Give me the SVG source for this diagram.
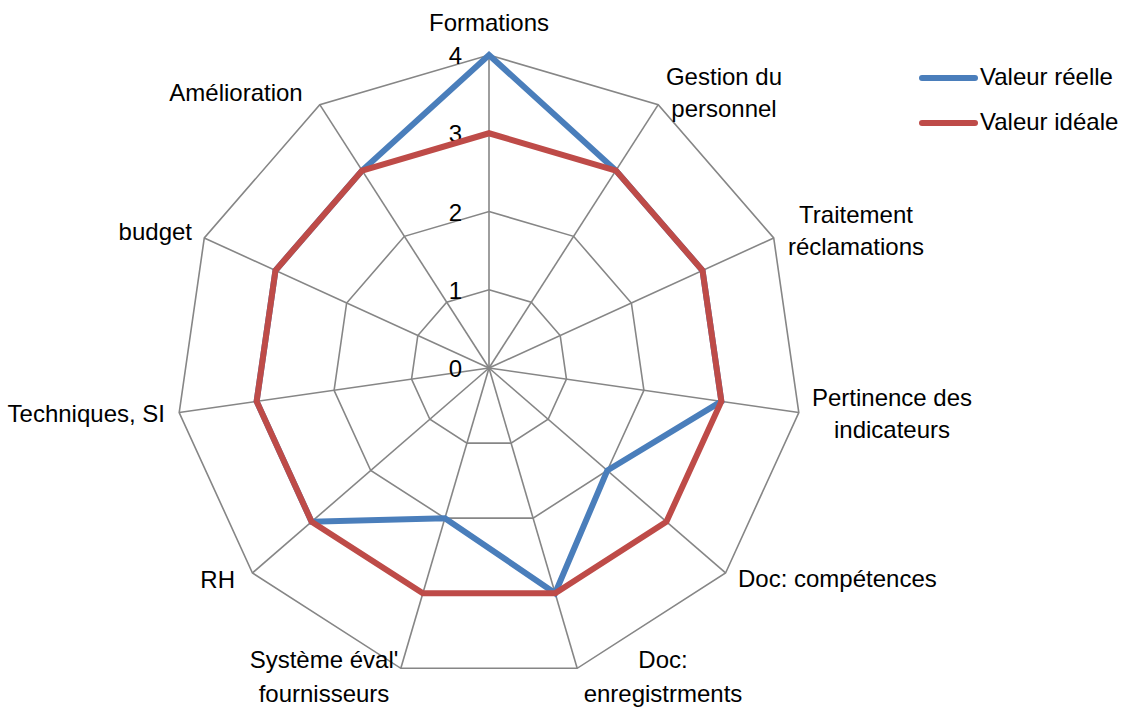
<svg xmlns="http://www.w3.org/2000/svg" width="1127" height="709" viewBox="0 0 1127 709">
<style>
.grid{fill:none;stroke:#868686;stroke-width:1.6;stroke-linejoin:miter}
.spoke{stroke:#868686;stroke-width:1.6}
.s1{fill:none;stroke:#4A7EBB;stroke-width:6;stroke-linejoin:miter}
.s2{fill:none;stroke:#BE4B48;stroke-width:6;stroke-linejoin:miter}
text{font-family:"Liberation Sans",Arial,sans-serif;font-size:24px;fill:#000}
.mid{text-anchor:middle}
.end{text-anchor:end}
</style>
<rect width="1127" height="709" fill="#ffffff"/>
<g id="grid">
<polygon class="grid" points="489,289.75 531.31,302.17 560.18,335.49 566.45,379.14 548.14,419.24 511.05,443.08 466.95,443.08 429.86,419.24 411.55,379.14 417.82,335.49 446.69,302.17"/>
<polygon class="grid" points="489,211.5 573.61,236.34 631.36,302.99 643.91,390.27 607.27,470.49 533.09,518.16 444.91,518.16 370.73,470.49 334.09,390.27 346.64,302.99 404.39,236.34"/>
<polygon class="grid" points="489,133.25 615.92,170.51 702.54,270.48 721.36,401.41 666.41,521.73 555.14,593.24 422.86,593.24 311.59,521.73 256.64,401.41 275.46,270.48 362.08,170.51"/>
<polygon class="grid" points="489,55 658.22,104.69 773.71,237.97 798.81,412.54 725.55,572.97 577.18,668.32 400.82,668.32 252.45,572.97 179.19,412.54 204.29,237.97 319.78,104.69"/>
</g>
<g id="spokes">
<line class="spoke" x1="489" y1="368" x2="489" y2="55"/>
<line class="spoke" x1="489" y1="368" x2="658.22" y2="104.69"/>
<line class="spoke" x1="489" y1="368" x2="773.71" y2="237.97"/>
<line class="spoke" x1="489" y1="368" x2="798.81" y2="412.54"/>
<line class="spoke" x1="489" y1="368" x2="725.55" y2="572.97"/>
<line class="spoke" x1="489" y1="368" x2="577.18" y2="668.32"/>
<line class="spoke" x1="489" y1="368" x2="400.82" y2="668.32"/>
<line class="spoke" x1="489" y1="368" x2="252.45" y2="572.97"/>
<line class="spoke" x1="489" y1="368" x2="179.19" y2="412.54"/>
<line class="spoke" x1="489" y1="368" x2="204.29" y2="237.97"/>
<line class="spoke" x1="489" y1="368" x2="319.78" y2="104.69"/>
</g>
<g id="scale">
<text class="end" x="462" y="377">0</text>
<text class="end" x="462" y="299">1</text>
<text class="end" x="462" y="220.5">2</text>
<text class="end" x="462" y="142">3</text>
<text class="end" x="462" y="64">4</text>
</g>
<g id="series-reelle">
<polygon class="s1" points="489,55 615.92,170.51 702.54,270.48 721.36,401.41 607.27,470.49 555.14,593.24 444.91,518.16 311.59,521.73 256.64,401.41 275.46,270.48 362.08,170.51"/>
</g>
<g id="series-ideale">
<polygon class="s2" points="489,133.25 615.92,170.51 702.54,270.48 721.36,401.41 666.41,521.73 555.14,593.24 422.86,593.24 311.59,521.73 256.64,401.41 275.46,270.48 362.08,170.51"/>
</g>
<g id="axis-labels">
<text class="mid" x="489" y="31">Formations</text>
<text class="mid" x="724" y="85">Gestion du</text>
<text class="mid" x="724" y="117">personnel</text>
<text class="mid" x="856" y="223">Traitement</text>
<text class="mid" x="856" y="255">réclamations</text>
<text class="mid" x="892" y="406">Pertinence des</text>
<text class="mid" x="892" y="438">indicateurs</text>
<text x="738" y="587">Doc: compétences</text>
<text class="mid" x="663" y="668">Doc:</text>
<text class="mid" x="663" y="702">enregistrments</text>
<text class="mid" x="324" y="668">Système éval'</text>
<text class="mid" x="324" y="702">fournisseurs</text>
<text class="end" x="235" y="588">RH</text>
<text class="end" x="165" y="422">Techniques, SI</text>
<text class="end" x="192" y="240">budget</text>
<text class="mid" x="236" y="101">Amélioration</text>
</g>
<g id="legend">
<line x1="922" y1="78" x2="975" y2="78" stroke="#4A7EBB" stroke-width="6" stroke-linecap="round"/>
<text x="980" y="85">Valeur réelle</text>
<line x1="922" y1="123" x2="975" y2="123" stroke="#BE4B48" stroke-width="6" stroke-linecap="round"/>
<text x="980" y="130">Valeur idéale</text>
</g>
</svg>
